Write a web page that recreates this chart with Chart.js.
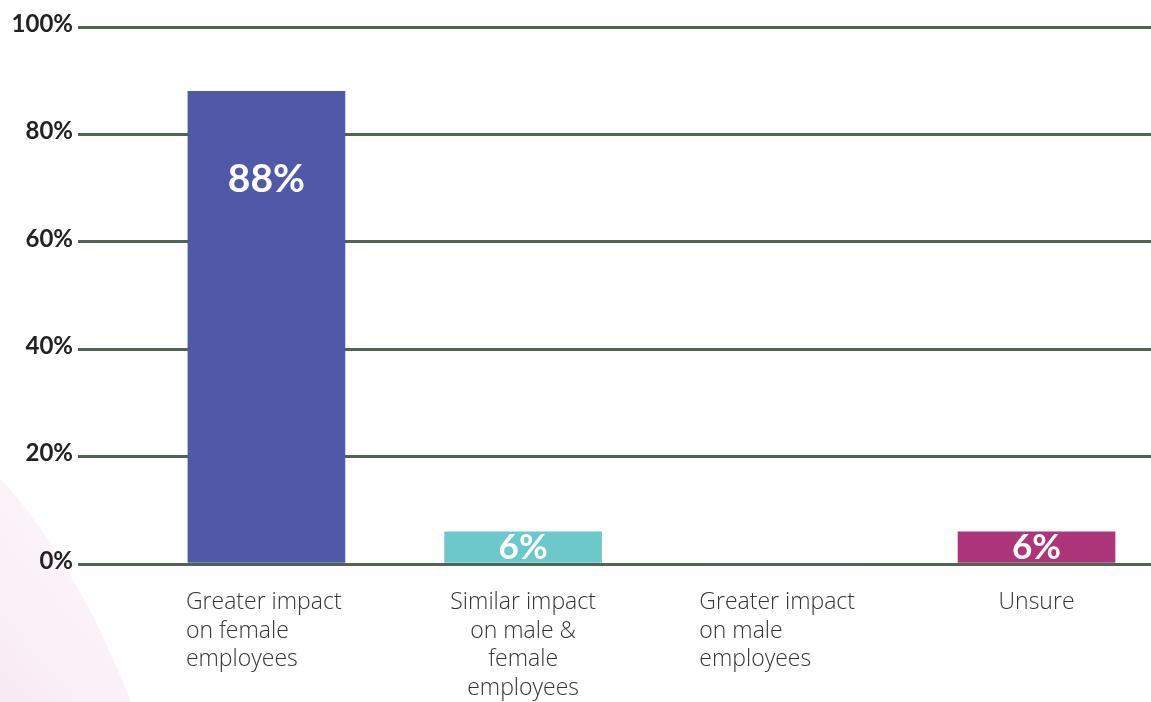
<!DOCTYPE html>
<html>
<head>
<meta charset="utf-8">
<script src="https://cdn.jsdelivr.net/npm/chart.js@4/dist/chart.umd.min.js"></script>
<style>
  html, body { margin: 0; padding: 0; background: #ffffff; }
  #wrap { width: 1151px; height: 702px; position: relative; }
  canvas { display: block; }
</style>
</head>
<body>
<div id="wrap"><canvas id="chart" width="1151" height="702"></canvas></div>
<script>
// ---- data ----
const categories = [
  ['Greater impact', 'on female', 'employees'],
  ['Similar impact', 'on male &', 'female', 'employees'],
  ['Greater impact', 'on male', 'employees'],
  ['Unsure']
];
const values = [88, 6, 0, 6];
const barColors = ['#4f59a8', '#6cc8cb', '#4f59a8', '#ad367a'];
const yTickValues = [0, 20, 40, 60, 80, 100];
const labelAlign = ['left', 'center', 'left', 'center'];

const BAR_WIDTH = 157;

// faint decorative shape bottom-left
const backgroundShape = {
  id: 'backgroundShape',
  beforeDraw(chart) {
    const ctx = chart.ctx;
    const h = chart.height;
    ctx.save();
    const g = ctx.createLinearGradient(0, h, 140, h - 120);
    g.addColorStop(0, '#f8ebf2');
    g.addColorStop(1, '#fcf6f9');
    ctx.fillStyle = g;
    ctx.beginPath();
    ctx.moveTo(0, 478);
    ctx.quadraticCurveTo(75, 560, 131, h);
    ctx.lineTo(0, h);
    ctx.closePath();
    ctx.fill();
    ctx.restore();
  }
};

const valueLabels = {
  id: 'valueLabels',
  afterDatasetsDraw(chart, args, opts) {
    const ctx = chart.ctx;
    const meta = chart.getDatasetMeta(0);
    ctx.save();
    ctx.fillStyle = opts.color;
    ctx.textAlign = 'center';
    ctx.textBaseline = 'middle';
    meta.data.forEach((bar, i) => {
      const v = values[i];
      if (!v) return;
      const tall = bar.y + opts.topOffset < (bar.y + bar.base) / 2;
      ctx.font = tall ? opts.font : opts.smallFont;
      const y = tall ? bar.y + opts.topOffset : (bar.y + bar.base) / 2 + 1;
      ctx.fillText(v + '%', bar.x, y);
    });
    ctx.restore();
  }
};

const categoryLabels = {
  id: 'categoryLabels',
  afterDraw(chart, args, opts) {
    const xs = chart.scales.x;
    const ctx = chart.ctx;
    ctx.save();
    ctx.font = opts.font;
    ctx.fillStyle = opts.color;
    ctx.textBaseline = 'alphabetic';
    categories.forEach((lines, i) => {
      const cx = xs.getPixelForValue(i);
      const align = labelAlign[i];
      ctx.textAlign = align;
      const x = align === 'left' ? cx - BAR_WIDTH / 2 - 2 : cx;
      lines.forEach((line, j) => {
        ctx.fillText(line, x, chart.chartArea.bottom + opts.firstBaseline + j * opts.lineHeight);
      });
    });
    ctx.restore();
  }
};

new Chart(document.getElementById('chart'), {
  type: 'bar',
  data: {
    datasets: [{
      data: values.map((v, i) => ({ x: i, y: v })),
      backgroundColor: barColors,
      borderWidth: 0,
      barThickness: BAR_WIDTH
    }]
  },
  options: {
    responsive: false,
    animation: false,
    events: [],
    layout: { padding: { top: 27, right: 0, bottom: 138, left: 0 } },
    plugins: {
      legend: { display: false },
      tooltip: { enabled: false },
      valueLabels: { font: 'bold 39px Lato', smallFont: 'bold 35px Lato', color: '#ffffff', topOffset: 88 },
      categoryLabels: { font: '300 23px "Open Sans"', color: '#333333', firstBaseline: 45, lineHeight: 28.5 }
    },
    scales: {
      x: {
        type: 'linear',
        display: false,
        offset: false,
        grid: { offset: false },
        min: -0.734,
        max: 3.446
      },
      y: {
        min: 0,
        max: 100,
        afterFit(scale) { scale.width = 78; },
        afterBuildTicks(scale) { scale.ticks = yTickValues.map(v => ({ value: v })); },
        border: { display: false },
        grid: { color: '#506452', lineWidth: 3, drawTicks: false },
        ticks: {
          padding: 5,
          labelOffset: -3,
          color: '#222222',
          font: { family: 'Lato', size: 24, weight: 'bold' },
          callback: v => v + '%'
        }
      }
    }
  },
  plugins: [backgroundShape, valueLabels, categoryLabels]
});
</script>
</body>
</html>
